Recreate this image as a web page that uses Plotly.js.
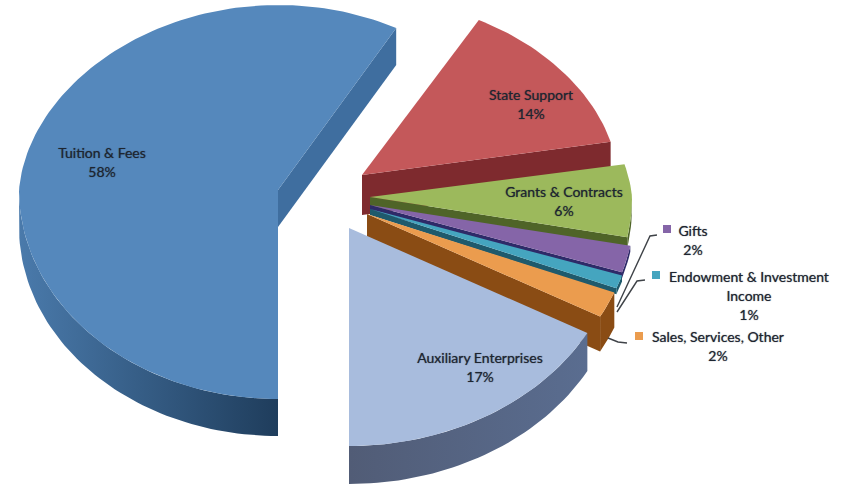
<!DOCTYPE html>
<html>
<head>
<meta charset="utf-8">
<script src="https://cdn.plot.ly/plotly-3.0.1.min.js"></script>
<style>html,body{margin:0;padding:0;background:#fff}#chart{width:842px;height:485px}</style>
</head>
<body>
<div id="chart"></div>
<script>
// ---- data ----
const categories = ["Tuition & Fees", "State Support", "Grants & Contracts", "Gifts", "Endowment & Investment<br>Income", "Sales, Services, Other", "Auxiliary Enterprises"];
const shares = [58, 14, 6, 2, 1, 2, 17];

// ---- styling ----
const faceColors = ["#5588bc", "#c4585a", "#9cb95c", "#8565a8", "#45a5bf", "#eb9c4e", "#a8bcdd"];
const cutColors  = ["#3f6e9f", "#7e2a2e", "#4f6428", "#2e2a68", "#1f5a6c", "#8a4c14", "#4f5a74"];
const rimFrom    = ["#4a7aab", "#7e2a2e", "#4f6428", "#2e2a68", "#1f5a6c", "#8a4c14", "#515c76"];
const rimTo      = ["#1f3d5c", "#7e2a2e", "#4f6428", "#2e2a68", "#1f5a6c", "#8a4c14", "#5a6d90"];

// ---- explosion and projection of each slice (pixels in the chart frame) ----
const hubX  = [278, 362, 370, 370, 370, 367, 349];
const hubY  = [190, 175, 197, 205, 209, 214, 228];
const radX  = [259, 256, 262, 265, 265, 266, 272];
const radUp = [185, 177, 175, 180, 180, 180, 190];
const radDn = [209, 209, 215, 218, 215, 213, 218];
const depth = [37, 40, 10, 6, 6, 35, 38];
const narrowing = 0.06;            // far side of the disc is drawn narrower

const labelX = [102, 531, 564, 693, 749, 718, 480];
const labelY = [154, 96, 193, 232, 278, 338, 359];
const labelGap = 19;
const keyX = [null, null, null, 667, 656, 639, null];
const keyY = [null, null, null, 229, 275, 336, null];
const leaders = {
  3: {x: [657, 650, 617], y: [235, 236, 307]},
  4: {x: [645, 637, 617], y: [280, 281, 312]},
  5: {x: [627, 618, 608], y: [343, 342, 338]}
};

const total = shares.reduce((a, b) => a + b, 0);
const startAngle = 180;            // clockwise from twelve o'clock
const rad = d => d * Math.PI / 180;

function rimPoint(i, deg) {
  const c = Math.cos(rad(deg));
  const w = radX[i] * (c > 0 ? 1 - narrowing * c : 1);
  return [hubX[i] + w * Math.sin(rad(deg)), hubY[i] - (c > 0 ? radUp[i] : radDn[i]) * c];
}
function sweep(i, a, b) {
  const n = Math.max(2, Math.ceil(Math.abs(b - a) / 1.5));
  const out = [];
  for (let k = 0; k <= n; k++) out.push(rimPoint(i, a + (b - a) * k / n));
  return out;
}
function poly(pts, color, name, gradient) {
  const t = {
    type: "scatter", mode: "lines", fill: "toself", fillcolor: color,
    x: pts.map(p => p[0]), y: pts.map(p => p[1]),
    line: {width: 0, color: color}, hoverinfo: name ? "name" : "skip",
    name: name || "", showlegend: false
  };
  if (gradient) t.fillgradient = gradient;
  return t;
}

const traces = [];
let cursor = startAngle;
shares.forEach((v, i) => {
  if (cursor >= 360) cursor -= 360;
  const a = cursor, b = cursor + v / total * 360;
  cursor = b;
  const d = depth[i];
  const rim = sweep(i, a, b);
  const hub = [hubX[i], hubY[i]];
  // cut face at the trailing edge
  const tail = rim[rim.length - 1];
  traces.push(poly([hub, tail, [tail[0], tail[1] + d], [hub[0], hub[1] + d]], cutColors[i]));
  // outer wall: the part of the rim that faces the viewer
  const lo = Math.max(a, 90), hi = Math.min(b, 270);
  if (hi > lo) {
    const edge = sweep(i, lo, hi);
    const low = edge.slice().reverse().map(p => [p[0], p[1] + d]);
    traces.push(poly(edge.concat(low), rimFrom[i], null, {
      type: "horizontal",
      colorscale: [[0, rimFrom[i]], [1, rimTo[i]]]
    }));
  }
  // top face
  traces.push(poly([hub].concat(rim), faceColors[i], categories[i].replace("<br>", " ")));
});

// leader lines
Object.keys(leaders).forEach(k => {
  traces.push({type: "scatter", mode: "lines", x: leaders[k].x, y: leaders[k].y,
    line: {color: "#3f4348", width: 1.4}, hoverinfo: "skip", showlegend: false});
});

// legend-key squares
traces.push({type: "scatter", mode: "markers", x: keyX, y: keyY,
  marker: {symbol: "square", size: 8, color: faceColors}, hoverinfo: "skip", showlegend: false});

// labels: one text point per line
const tx = [], ty = [], tt = [];
categories.forEach((c, i) => {
  const lines = c.split("<br>").concat([shares[i] + "%"]);
  lines.forEach((l, j) => { tx.push(labelX[i]); ty.push(labelY[i] + j * labelGap); tt.push(l); });
});
traces.push({type: "scatter", mode: "text", x: tx, y: ty, text: tt, textposition: "middle center",
  textfont: {family: "Lato, 'Open Sans', sans-serif", size: 14, color: "#1d2530",
             shadow: "0 0 1px rgba(29,37,48,0.7)"},
  hoverinfo: "skip", showlegend: false});

Plotly.newPlot("chart", traces, {
  width: 842, height: 485,
  margin: {l: 0, r: 0, t: 0, b: 0},
  paper_bgcolor: "#ffffff", plot_bgcolor: "#ffffff",
  xaxis: {range: [0, 842], visible: false, fixedrange: true},
  yaxis: {range: [485, 0], visible: false, fixedrange: true},
  showlegend: false
}, {displayModeBar: false, staticPlot: true});
</script>
</body>
</html>
